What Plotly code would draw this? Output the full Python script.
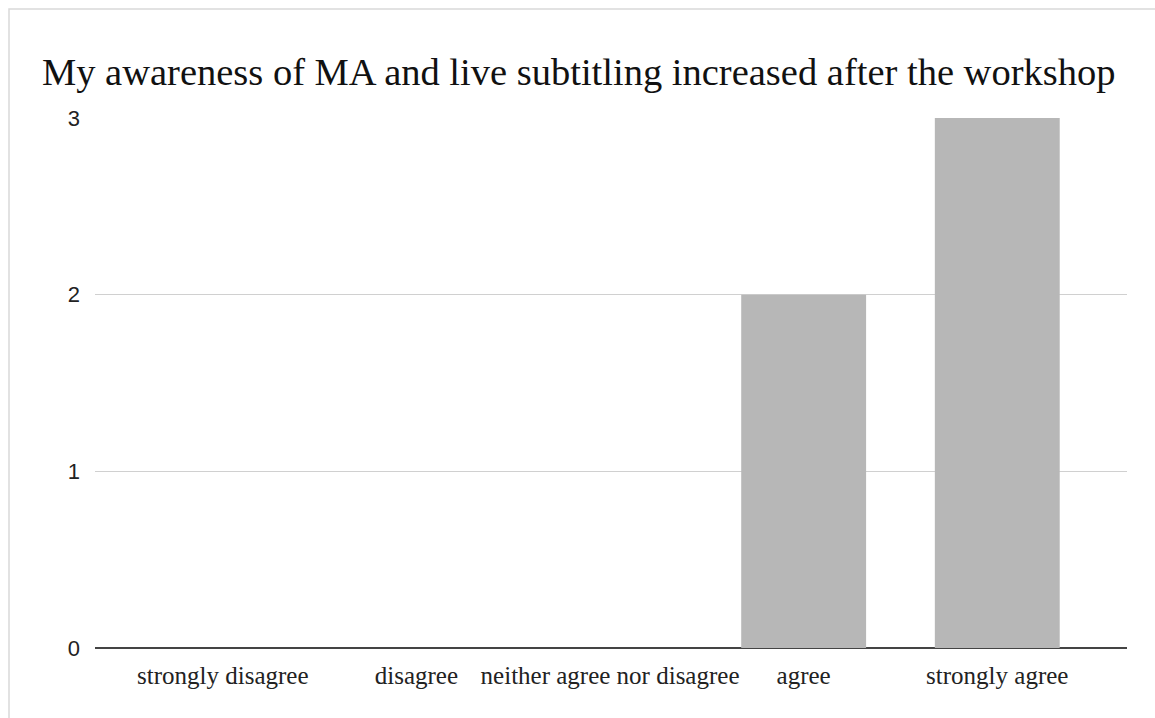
import plotly.graph_objects as go

categories = ["strongly disagree", "disagree", "neither agree nor disagree", "agree", "strongly agree"]
counts = [0, 0, 0, 2, 3]
y_ticks = [0, 1, 2, 3]
title_text = "My awareness of MA and live subtitling increased after the workshop"

W, H = 1155, 718
L, R, T, B = 95, 28, 118, 70
pw, ph = W - L - R, H - T - B

fig = go.Figure(go.Bar(
    x=list(range(len(categories))), y=counts,
    marker=dict(color="#b7b7b7", line=dict(width=0)),
    width=0.645,
))

def px_x(p):
    return (p - L) / pw

def px_y(p):
    return (H - B - p) / ph

fig.add_shape(type="rect", xref="paper", yref="paper",
              x0=px_x(9), x1=px_x(1170), y0=px_y(9), y1=px_y(730),
              line=dict(color="#d9d9d9", width=1.5), fillcolor="rgba(0,0,0,0)", layer="below")

fig.update_layout(
    width=W, height=H,
    margin=dict(l=L, r=R, t=T, b=B, autoexpand=False),
    paper_bgcolor="white", plot_bgcolor="white",
    title=dict(text=title_text, x=42 / W, xanchor="left", xref="container",
               y=1 - 72 / H, yanchor="middle",
               font=dict(family="Liberation Serif", size=38.5, color="#111")),
    xaxis=dict(tickmode="array", tickvals=list(range(len(categories))), ticktext=categories,
               range=[-0.66, 4.67], showgrid=False, zeroline=False, showline=False,
               ticks="", ticklabelstandoff=10,
               tickfont=dict(family="Liberation Serif", size=25, color="#222")),
    yaxis=dict(range=[0, 3], tickvals=y_ticks, showgrid=True, gridcolor="#d0d0d0", gridwidth=1,
               zeroline=True, zerolinecolor="#444", zerolinewidth=2, showline=False,
               ticks="", ticklabelstandoff=14,
               tickfont=dict(family="Liberation Sans", size=22, color="#222")),
    showlegend=False, bargap=0.35,
)
fig.write_html("out.html")
